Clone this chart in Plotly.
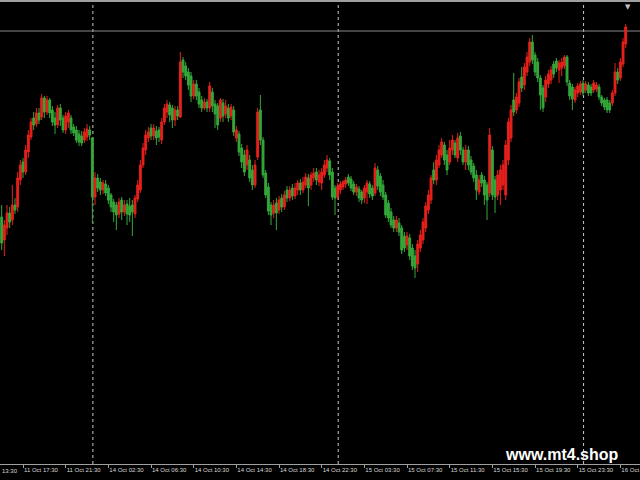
import plotly.graph_objects as go

# ---- data (M15 bars, price in arbitrary chart units) ----
opens = [283,260,272,287,280,295,293,320,338,328,
         348,363,382,376,387,383,402,388,400,390,
         382,375,392,382,370,378,382,373,370,366,
         364,360,363,370,362,303,322,318,310,316,
         312,305,298,295,286,300,288,296,294,295,
         286,301,310,335,350,362,372,364,369,370,
         360,378,388,395,392,380,390,383,440,434,
         428,424,404,416,408,400,392,398,392,408,
         396,394,382,397,386,392,384,390,362,366,
         352,345,335,340,330,315,343,390,360,327,
         313,295,287,297,290,302,293,310,302,312,
         304,310,317,310,315,322,315,322,328,318,
         317,325,332,339,328,312,303,310,313,316,
         323,321,316,308,311,308,302,308,316,312,
         307,330,324,315,305,297,288,280,272,277,
         272,264,255,262,252,244,236,252,260,272,
         290,300,330,320,335,345,355,345,338,350,
         357,342,364,350,338,350,340,334,325,308,
         325,320,315,307,350,320,305,310,315,305,
         340,362,400,390,397,423,415,428,438,458,
         445,438,422,412,403,416,420,436,439,430,
         432,434,443,417,413,400,407,408,417,410,
         415,413,410,411,413,403,400,400,397,397,
         407,428,422,436,456]
highs = [295,280,295,293,315,302,328,340,342,355,
         370,382,388,392,392,406,404,404,402,394,
         388,395,396,385,388,390,385,376,374,370,
         369,372,376,374,363,328,326,322,320,320,
         315,307,301,298,302,303,300,300,302,300,
         305,320,340,357,370,373,376,376,374,373,
         382,396,400,398,395,394,394,448,443,438,
         432,428,420,420,412,404,402,401,418,412,
         400,397,402,401,400,396,396,394,374,369,
         356,350,355,345,335,340,392,405,363,330,
         317,298,300,302,304,306,309,314,314,316,
         317,320,321,323,327,326,328,332,332,330,
         332,340,345,342,332,315,317,319,320,323,
         326,324,319,316,314,310,315,320,319,315,
         337,334,327,320,308,300,292,284,284,282,
         275,268,268,266,256,250,260,270,282,298,
         310,325,338,345,355,362,358,350,360,365,
         360,367,368,353,355,354,344,337,330,325,
         328,324,318,372,354,324,330,335,340,360,
         382,395,427,407,422,433,437,448,462,465,
         448,442,425,415,424,430,434,439,442,440,
         442,445,445,420,416,413,417,419,420,419,
         418,416,420,418,416,405,402,403,400,410,
         437,432,442,462,476]
lows = [250,244,265,272,275,286,288,315,322,325,
        342,360,370,373,376,380,382,385,382,374,
        366,372,374,367,366,372,366,364,357,354,
        354,357,359,360,277,295,308,305,306,304,
        296,288,278,270,282,280,284,275,278,264,
        282,298,307,332,345,358,360,360,355,358,
        356,375,382,378,372,374,380,382,422,420,
        410,398,401,400,392,388,390,388,388,388,
        372,370,378,378,382,378,380,364,358,344,
        332,324,330,318,310,312,340,355,322,302,
        285,275,282,270,286,288,290,298,299,300,
        301,305,305,307,312,294,310,318,315,314,
        310,322,328,320,300,285,300,306,310,312,
        314,309,305,304,298,296,297,296,302,300,
        304,310,304,300,282,278,272,268,268,264,
        246,248,250,240,230,222,228,248,256,268,
        286,296,316,315,332,342,335,325,335,345,
        342,338,345,335,330,330,325,318,300,305,
        313,295,280,303,300,287,300,295,310,300,
        335,358,384,386,393,408,410,424,434,436,
        424,418,390,388,398,412,416,422,428,417,
        424,431,414,400,390,397,403,405,404,407,
        404,404,407,408,400,394,390,387,387,394,
        404,416,419,433,452]
closes = [257,275,287,278,295,290,322,335,328,350,
          365,378,375,387,380,402,388,400,387,378,
          375,392,380,370,384,387,370,367,360,358,
          357,368,371,365,303,322,312,310,317,307,
          300,293,288,285,298,288,295,286,285,288,
          302,315,335,352,365,368,364,372,362,363,
          378,392,396,385,380,390,384,438,428,424,
          415,404,416,404,396,392,398,392,414,394,
          386,375,400,384,394,382,393,368,370,348,
          338,328,350,322,315,335,388,360,325,305,
          289,285,295,287,300,293,305,302,310,304,
          312,317,310,318,323,312,325,327,320,325,
          328,335,340,325,303,302,314,316,318,320,
          317,312,308,313,302,300,312,317,306,304,
          332,314,308,303,285,282,275,272,280,268,
          250,252,264,244,234,232,256,265,278,294,
          305,322,320,340,350,358,340,330,352,360,
          345,362,350,338,350,335,328,322,310,320,
          317,305,300,365,305,303,325,330,335,355,
          378,390,388,403,418,412,433,443,458,440,
          428,422,405,392,420,426,430,426,432,437,
          438,443,418,404,401,410,414,416,407,416,
          407,407,417,415,403,397,393,390,390,407,
          428,420,438,458,473]

bars = list(range(len(closes)))

tick_bars = [8, 24, 40, 56, 72, 88, 104, 120, 136, 152, 168, 184, 200, 216, 232]
tick_labels = ["11 Oct 17:30", "11 Oct 21:30", "14 Oct 02:30", "14 Oct 06:30",
               "14 Oct 10:30", "14 Oct 14:30", "14 Oct 18:30", "14 Oct 22:30",
               "15 Oct 03:30", "15 Oct 07:30", "15 Oct 11:30", "15 Oct 15:30",
               "15 Oct 19:30", "15 Oct 23:30", "16 Oct 04:30"]
day_start_bars = [34, 126, 218]
level_price = 469

RED = "#e8211c"
GREEN = "#34a83a"
TICK_FONT = "Liberation Sans, Arial"

fig = go.Figure()
fig.add_trace(go.Candlestick(
    x=bars, open=opens, high=highs, low=lows, close=closes,
    increasing=dict(line=dict(color=RED, width=1), fillcolor=RED),
    decreasing=dict(line=dict(color=GREEN, width=1), fillcolor=GREEN),
    whiskerwidth=0, hoverinfo="skip", showlegend=False,
))

shapes = []
for b in day_start_bars:
    shapes.append(dict(type="line", xref="x", yref="paper", x0=b + 0.2, x1=b + 0.2,
                       y0=0, y1=1, layer="below",
                       line=dict(color="#c8c8c8", width=1, dash="dot")))
shapes.append(dict(type="line", xref="paper", yref="y", x0=0, x1=1,
                   y0=level_price, y1=level_price, layer="below",
                   line=dict(color="#8a8a8a", width=1)))
shapes.append(dict(type="line", xref="paper", yref="paper", x0=0, x1=1,
                   y0=0.998, y1=0.998, line=dict(color="#a0a0a0", width=2)))

annotations = [
    dict(text="13:30", xref="paper", yref="paper", x=0, y=0, xanchor="left",
         yanchor="top", yshift=-2, showarrow=False,
         font=dict(family=TICK_FONT, size=6, color="#d8d8d8")),
    dict(text="<b>www.mt4.shop</b>", xref="paper", yref="paper", x=562 / 640, y=0,
         xanchor="center", yanchor="bottom", yshift=-1, showarrow=False,
         font=dict(family="Liberation Sans, Arial", size=16, color="#ffffff")),
    dict(text="▼", xref="paper", yref="paper", x=628 / 640, y=1, xanchor="center",
         yanchor="top", yshift=-1, showarrow=False,
         font=dict(family="DejaVu Sans", size=7, color="#c0c0c0")),
]

fig.update_layout(
    width=640, height=480,
    margin=dict(l=0, r=0, t=0, b=16, autoexpand=False),
    paper_bgcolor="#000000", plot_bgcolor="#000000",
    showlegend=False, boxgap=0, boxgroupgap=0.3,
    shapes=shapes, annotations=annotations,
)
fig.update_xaxes(
    range=[-0.63, 239.36], rangeslider_visible=False, automargin=False,
    showgrid=False, zeroline=False, showline=True, linecolor="#a0a0a0", linewidth=1,
    ticks="outside", ticklen=3, tickcolor="#a0a0a0", tickwidth=1, tickangle=0,
    tickvals=tick_bars, ticktext=tick_labels,
    ticklabelposition="outside right", ticklabeloverflow="allow",
    tickfont=dict(family=TICK_FONT, size=6, color="#d8d8d8"),
)
fig.update_yaxes(range=[36, 500], visible=False, showgrid=False, zeroline=False,
                 automargin=False)

fig.write_html(
    "out.html",
    config={"displayModeBar": False, "staticPlot": True},
    post_script="document.body.style.margin='0px';document.body.style.overflow='hidden';",
)
